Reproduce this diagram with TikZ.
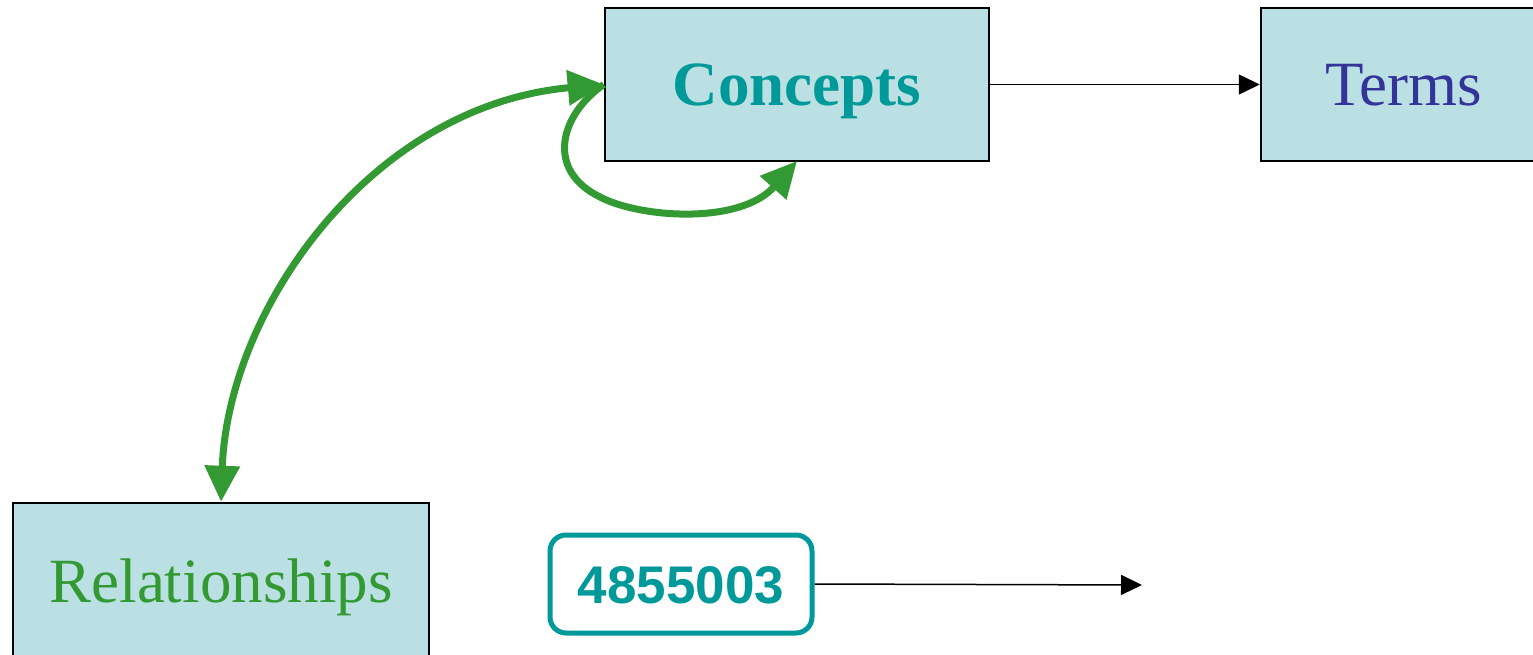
\documentclass[tikz,border=0pt]{standalone}
\usepackage{fontspec}
\setmainfont{Liberation Serif}
\newfontfamily\digitfont{Liberation Sans}
\usetikzlibrary{arrows.meta}
\definecolor{boxfill}{HTML}{BBE0E3}
\definecolor{tealtext}{HTML}{009999}
\definecolor{greenlink}{HTML}{339933}
\definecolor{navytext}{HTML}{333399}
\tikzset{
  entity/.style={draw=black, line width=2.5pt, fill=boxfill, inner sep=0pt,
    text height=41.7pt, text depth=0pt, font=\fontsize{63}{70}\selectfont},
  idbox/.style={draw=tealtext, line width=5pt, fill=white, rounded corners=16pt,
    inner sep=0pt, minimum width=262pt, minimum height=98pt,
    text height=38pt, text depth=0pt, text=tealtext,
    font=\digitfont\bfseries\fontsize{53}{60}\selectfont},
  thinarrow/.style={draw=black, line width=1.5pt, -{Triangle[length=21pt,width=20pt]}},
  greenarrow/.style={draw=greenlink, line width=7pt,
    -{Triangle[length=36pt,width=34pt]}},
}
\begin{document}
\begin{tikzpicture}[x=1pt,y=-1pt]
  \useasboundingbox (0,0) rectangle (1533,655);
  \clip (0,0) rectangle (1533,655);

  % entity boxes
  \node[entity, minimum width=384pt, minimum height=153pt, text=tealtext,
        font=\bfseries\fontsize{63}{70}\selectfont] (concepts) at (797,84.5) {Concepts};
  \node[entity, minimum width=286pt, minimum height=153pt, text=navytext] (terms) at (1404,84.5) {Terms};
  \node[entity, minimum width=416pt, minimum height=158pt, text=greenlink] (rels) at (221,582) {Relationships};

  % identifier box
  \node[idbox] (code) at (681,584) {4855003};
  \coordinate (codeend) at (1142,585);

  % black connectors
  \draw[thinarrow] (concepts.east) -- (terms.west);
  \draw[thinarrow] (code.east) -- (codeend);

  % concepts <-> relationships
  \coordinate (cleft) at (concepts.west);
  \coordinate (rtop) at (rels.north);
  \draw[greenarrow, {Triangle[length=36pt,width=34pt]}-{Triangle[length=36pt,width=34pt]}]
    (rtop) .. controls (228,310) and (370,106) .. (cleft);

  % concepts self relation
  \coordinate (cbottom) at (797,161);
  \draw[greenarrow]
    (cleft) .. controls (560,115) and (545,170) .. (600,197)
            .. controls (640,218) and (740,225) .. (cbottom);
\end{tikzpicture}
\end{document}
